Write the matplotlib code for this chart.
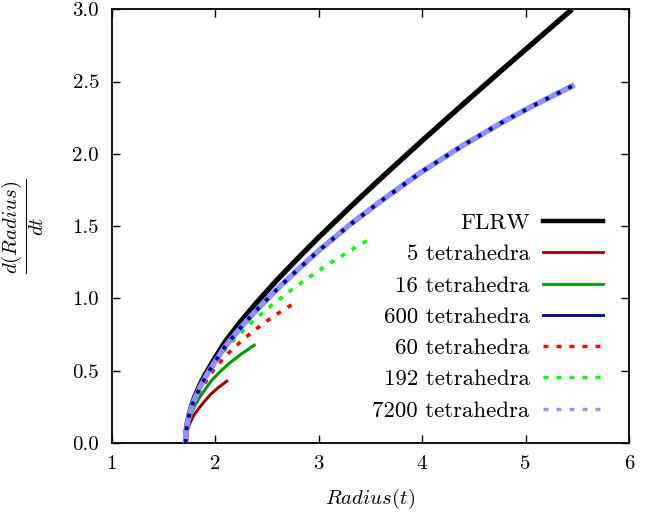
import matplotlib
matplotlib.use("Agg")
import matplotlib.pyplot as plt
from matplotlib.lines import Line2D

plt.rcParams['font.family'] = 'serif'
plt.rcParams['font.serif'] = ['cmr10']
plt.rcParams['mathtext.fontset'] = 'cm'
plt.rcParams['axes.formatter.use_mathtext'] = True

# ---- data ----
r_flrw = [1.715, 1.72, 1.73, 1.75, 1.775, 1.80, 1.85, 1.90, 2.0, 2.1, 2.25, 2.4, 2.6, 2.8,
          3.0, 3.3, 3.6, 4.0, 4.4, 4.8, 5.1, 5.45]
v_flrw = [0, .075, .130, .199, .261, .312, .396, .467, .588, .702, .842, .969, 1.128, 1.277,
          1.421, 1.628, 1.829, 2.090, 2.345, 2.597, 2.783, 3.0]

r_5 = [1.715, 1.72, 1.73, 1.75, 1.775, 1.80, 1.85, 1.90, 1.96, 2.03, 2.114]
v_5 = [0, .047, .082, .125, .164, .196, .246, .289, .338, .382, .428]

r_16 = [1.715, 1.72, 1.73, 1.75, 1.775, 1.80, 1.85, 1.90, 1.97, 2.05, 2.14, 2.25, 2.378]
v_16 = [0, .061, .105, .161, .210, .250, .313, .366, .435, .494, .552, .613, .676]

r_600 = [1.715, 1.72, 1.73, 1.75, 1.775, 1.80, 1.85, 1.90, 2.0, 2.1, 2.25, 2.4, 2.6, 2.8,
         3.0, 3.3, 3.6, 4.0, 4.4, 4.8, 5.1, 5.45]
v_600 = [0, .072, .124, .190, .249, .298, .378, .446, .562, .669, .800, .918, 1.064, 1.199,
         1.329, 1.508, 1.672, 1.877, 2.060, 2.228, 2.342, 2.468]

r_60 = [1.715, 1.72, 1.73, 1.75, 1.775, 1.80, 1.85, 1.90, 2.0, 2.1, 2.2, 2.35, 2.5, 2.65, 2.775]
v_60 = [0, .068, .118, .180, .236, .281, .353, .413, .519, .600, .670, .762, .843, .915, .971]

r_192 = [1.715, 1.72, 1.73, 1.75, 1.775, 1.80, 1.85, 1.90, 2.0, 2.15, 2.3, 2.5, 2.7, 2.9,
         3.1, 3.3, 3.5]
v_192 = [0, .072, .126, .192, .251, .299, .377, .442, .558, .688, .798, .925, 1.038, 1.142,
         1.238, 1.328, 1.413]

r_7200 = [1.715, 1.72, 1.73, 1.75, 1.775, 1.80, 1.85, 1.90, 2.0, 2.1, 2.25, 2.4, 2.6, 2.8,
          3.0, 3.3, 3.6, 4.0, 4.4, 4.8, 5.1, 5.45]
v_7200 = [0, .072, .124, .190, .249, .298, .378, .446, .562, .669, .800, .918, 1.064, 1.199,
          1.329, 1.508, 1.672, 1.877, 2.060, 2.228, 2.342, 2.468]

labels = ["FLRW", "5 tetrahedra", "16 tetrahedra", "600 tetrahedra",
          "60 tetrahedra", "192 tetrahedra", "7200 tetrahedra"]
x_ticks = [1, 2, 3, 4, 5, 6]
y_ticks = [0.0, 0.5, 1.0, 1.5, 2.0, 2.5, 3.0]

c_black = "#000000"
c_dred = "#a00000"
c_dgreen = "#009a00"
c_navy = "#0000a0"
c_red = "#ff0000"
c_green = "#00ff00"
c_lblue = "#9090ff"

FS = 15
FS_LEG = 16.5
fig = plt.figure(figsize=(6.65, 5.14), dpi=100)
ax = fig.add_axes([111.5 / 665, 71 / 514, 517.5 / 665, 433.8 / 514])

dot = (0, (1.3, 2.2))
ax.plot(r_flrw, v_flrw, color=c_black, lw=3.8, solid_capstyle='butt', zorder=2)
ax.plot(r_5, v_5, color=c_dred, lw=2.2, zorder=3)
ax.plot(r_16, v_16, color=c_dgreen, lw=2.2, zorder=3)
ax.plot(r_600, v_600, color=c_navy, lw=2.2, zorder=3)
ax.plot(r_60, v_60, color=c_red, lw=2.6, ls=dot, zorder=4)
ax.plot(r_192, v_192, color=c_green, lw=2.6, ls=dot, zorder=4)
ax.plot(r_7200, v_7200, color=c_lblue, lw=4.0, zorder=5)
ax.plot(r_600, v_600, color=c_navy, lw=2.8, ls=(0, (1.0, 2.3)), zorder=6)

ax.set_xlim(1, 6)
ax.set_ylim(0, 3)
ax.set_xticks(x_ticks)
ax.set_yticks(y_ticks)
ax.set_xticklabels([str(v) for v in x_ticks])
ax.set_yticklabels([f"{v:.1f}" for v in y_ticks])
ax.tick_params(direction='in', top=True, right=True, length=6, width=1,
               labelsize=FS, pad=9)
for s in ax.spines.values():
    s.set_linewidth(1.3)

ax.set_xlabel(r"$Radius(t)$", fontsize=FS, labelpad=9.5)
ax.set_ylabel(r"$\dfrac{d(Radius)}{dt}$", fontsize=FS)
ax.yaxis.set_label_coords(-0.126, 0.5)

handles = [
    Line2D([], [], color=c_black, lw=3.2),
    Line2D([], [], color=c_dred, lw=2.0),
    Line2D([], [], color=c_dgreen, lw=2.0),
    Line2D([], [], color=c_navy, lw=2.0),
    Line2D([], [], color=c_red, lw=2.4, ls=(0, (1.5, 2.4))),
    Line2D([], [], color=c_green, lw=2.4, ls=(0, (1.5, 2.4))),
    Line2D([], [], color=c_lblue, lw=2.4, ls=(0, (1.5, 2.4))),
]
leg = ax.legend(handles, labels, loc='upper right', markerfirst=False, frameon=False,
                fontsize=FS_LEG, handlelength=2.6, handletextpad=0.6, labelspacing=0.49,
                borderpad=0, borderaxespad=0,
                bbox_to_anchor=(603 / 665, (514 - 213) / 514),
                bbox_transform=fig.transFigure)

fig.savefig("out.png", dpi=100)
